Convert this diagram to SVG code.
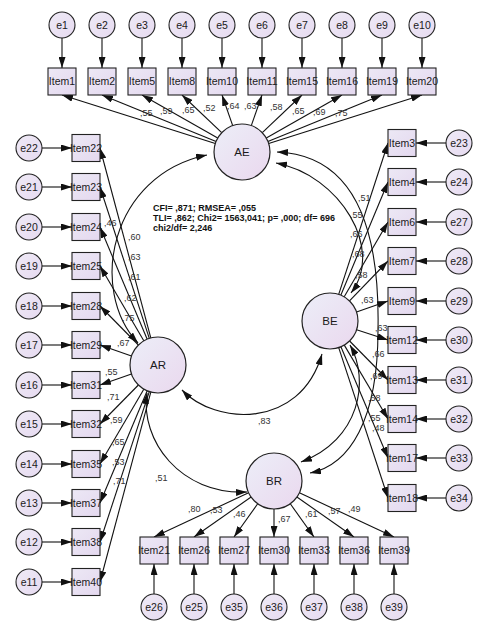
<svg xmlns="http://www.w3.org/2000/svg" width="487" height="630" viewBox="0 0 487 630">
<defs>
<linearGradient id="gl" x1="0" y1="0" x2="1" y2="1"><stop offset="0" stop-color="#eceef8"/><stop offset="1" stop-color="#ead8ee"/></linearGradient>
<linearGradient id="ge" x1="0" y1="0" x2="1" y2="1"><stop offset="0" stop-color="#efeaf6"/><stop offset="1" stop-color="#e6daf0"/></linearGradient>
<linearGradient id="gb" x1="0" y1="0" x2="1" y2="1"><stop offset="0" stop-color="#ece8f5"/><stop offset="1" stop-color="#e4d8ef"/></linearGradient>
<marker id="ah" viewBox="0 0 11 7" refX="11" refY="3.5" markerWidth="11" markerHeight="7" markerUnits="userSpaceOnUse" orient="auto-start-reverse"><path d="M0,0 L11,3.5 L0,7 z" fill="#111"/></marker>
<style>
.lat circle{fill:url(#gl);stroke:#222;stroke-width:1.2}
.err circle{fill:url(#ge);stroke:#222;stroke-width:1.1}
.itm rect{fill:url(#gb);stroke:#222;stroke-width:1.1}
text{font-family:"Liberation Sans",Arial,sans-serif;fill:#1a1a1a;text-anchor:middle}
.itm text,.err text{font-size:10.5px}
.lat text{font-size:11.5px}
.lbl text{font-size:9px;fill:#333;text-anchor:start}
.fit text{font-size:9px;font-weight:bold;text-anchor:start;fill:#111}
#edges line,#edges path{stroke:#111;stroke-width:1.1;fill:none;marker-end:url(#ah)}
#edges path.cov{marker-start:url(#ah)}
</style>
</defs>
<rect width="487" height="630" fill="#fff"/>
<g id="edges">
<line x1="62" y1="38" x2="62" y2="68"/><line x1="102" y1="38" x2="102" y2="68"/><line x1="142" y1="38" x2="142" y2="68"/><line x1="182" y1="38" x2="182" y2="68"/><line x1="222" y1="38" x2="222" y2="68"/><line x1="262" y1="38" x2="262" y2="68"/><line x1="302" y1="38" x2="302" y2="68"/><line x1="342" y1="38" x2="342" y2="68"/><line x1="382" y1="38" x2="382" y2="68"/><line x1="422" y1="38" x2="422" y2="68"/>
<line x1="42" y1="148" x2="72" y2="148"/><line x1="42" y1="187" x2="72" y2="187"/><line x1="42" y1="227" x2="72" y2="227"/><line x1="42" y1="266" x2="72" y2="266"/><line x1="42" y1="306" x2="72" y2="306"/><line x1="42" y1="345" x2="72" y2="345"/><line x1="42" y1="385" x2="72" y2="385"/><line x1="42" y1="424" x2="72" y2="424"/><line x1="42" y1="464" x2="72" y2="464"/><line x1="42" y1="503" x2="72" y2="503"/><line x1="42" y1="542" x2="72" y2="542"/><line x1="42" y1="582" x2="72" y2="582"/>
<line x1="446" y1="143" x2="416" y2="143"/><line x1="446" y1="182" x2="416" y2="182"/><line x1="446" y1="222" x2="416" y2="222"/><line x1="446" y1="261" x2="416" y2="261"/><line x1="446" y1="301" x2="416" y2="301"/><line x1="446" y1="340" x2="416" y2="340"/><line x1="446" y1="380" x2="416" y2="380"/><line x1="446" y1="419" x2="416" y2="419"/><line x1="446" y1="458" x2="416" y2="458"/><line x1="446" y1="498" x2="416" y2="498"/>
<line x1="154" y1="594" x2="154" y2="564"/><line x1="194" y1="594" x2="194" y2="564"/><line x1="234" y1="594" x2="234" y2="564"/><line x1="274" y1="594" x2="274" y2="564"/><line x1="314" y1="594" x2="314" y2="564"/><line x1="354" y1="594" x2="354" y2="564"/><line x1="394" y1="594" x2="394" y2="564"/>
<line x1="215.3" y1="143.5" x2="62" y2="95"/><line x1="216.1" y1="141.4" x2="102" y2="95"/><line x1="217.7" y1="138.1" x2="142" y2="95"/><line x1="221.7" y1="132.7" x2="182" y2="95"/><line x1="232.7" y1="125.6" x2="222" y2="95"/><line x1="251.3" y1="125.6" x2="262" y2="95"/><line x1="262.3" y1="132.7" x2="302" y2="95"/><line x1="266.3" y1="138.1" x2="342" y2="95"/><line x1="267.9" y1="141.4" x2="382" y2="95"/><line x1="268.7" y1="143.5" x2="422" y2="95"/>
<line x1="150.8" y1="337.9" x2="100" y2="148"/><line x1="149.3" y1="338.4" x2="100" y2="187"/><line x1="147.2" y1="339.2" x2="100" y2="227"/><line x1="143.8" y1="340.8" x2="100" y2="266"/><line x1="138.4" y1="345" x2="100" y2="306"/><line x1="131.5" y1="355.9" x2="100" y2="345"/><line x1="131.5" y1="374.1" x2="100" y2="385"/><line x1="138.4" y1="385" x2="100" y2="424"/><line x1="143.8" y1="389.2" x2="100" y2="464"/><line x1="147.2" y1="390.8" x2="100" y2="503"/><line x1="149.3" y1="391.6" x2="100" y2="542"/><line x1="150.8" y1="392.1" x2="100" y2="582"/>
<line x1="338.7" y1="294.4" x2="388" y2="143"/><line x1="340.8" y1="295.2" x2="388" y2="182"/><line x1="344.2" y1="296.8" x2="388" y2="222"/><line x1="349.5" y1="300.9" x2="388" y2="261"/><line x1="356.5" y1="311.9" x2="388" y2="301"/><line x1="356.6" y1="329.7" x2="388" y2="340"/><line x1="349.6" y1="341" x2="388" y2="380"/><line x1="344.3" y1="345.1" x2="388" y2="419"/><line x1="340.9" y1="346.8" x2="388" y2="458"/><line x1="338.7" y1="347.6" x2="388" y2="498"/>
<line x1="248.6" y1="492.8" x2="154" y2="537"/><line x1="251.1" y1="497" x2="194" y2="537"/><line x1="257.7" y1="503.8" x2="234" y2="537"/><line x1="274" y1="509" x2="274" y2="537"/><line x1="290.3" y1="503.8" x2="314" y2="537"/><line x1="296.9" y1="497" x2="354" y2="537"/><line x1="299.4" y1="492.8" x2="394" y2="537"/>
<path class="cov" d="M207,155 C110,175 88,290 138,343"/>
<path class="cov" d="M276,163 C340,175 385,250 351,293"/>
<path class="cov" d="M277,152 C355,155 380,230 378,330 C378,420 350,465 310,473"/>
<path class="cov" d="M182,390 C215,425 300,430 322,354"/>
<path class="cov" d="M147,393 C140,440 180,495 247,492"/>
<path class="cov" d="M350,345 C370,380 360,440 301,462"/>
</g>
<g id="labels" class="lbl">
<text x="140" y="116">,55</text><text x="160" y="114">,59</text><text x="182" y="113">,65</text><text x="203" y="111">,52</text><text x="227" y="109">,64</text><text x="244" y="109">,63</text><text x="270" y="110">,58</text><text x="292" y="114">,65</text><text x="313" y="115">,69</text><text x="335" y="116">,75</text>
<text x="104" y="226">,46</text><text x="128" y="240">,60</text><text x="128" y="260">,63</text><text x="128" y="280">,61</text><text x="124" y="301">,62</text><text x="122" y="321">,75</text><text x="117" y="346">,67</text><text x="105" y="375">,55</text><text x="107" y="400">,71</text><text x="110" y="423">,59</text><text x="112" y="445">,65</text><text x="112" y="465">,53</text><text x="113" y="484">,71</text><text x="155" y="481">,51</text>
<text x="358" y="201">,51</text><text x="350" y="218">,55</text><text x="350" y="237">,66</text><text x="352" y="257">,68</text><text x="355" y="278">,58</text><text x="361" y="303">,63</text><text x="375" y="331">,63</text><text x="372" y="357">,66</text><text x="370" y="379">,69</text><text x="368" y="401">,58</text><text x="368" y="421">,55</text><text x="372" y="431">,48</text>
<text x="188" y="512">,80</text><text x="210" y="513">,53</text><text x="233" y="517">,46</text><text x="278" y="522">,67</text><text x="305" y="517">,61</text><text x="328" y="514">,57</text><text x="348" y="512">,49</text>
<text x="258" y="424">,83</text>
</g>
<g id="fit" class="fit">
<text x="153" y="211">CFI= ,871; RMSEA= ,055</text>
<text x="153" y="221">TLI= ,862; Chi2= 1563,041; p= ,000; df= 696</text>
<text x="153" y="231">chi2/df= 2,246</text>
</g>
<g id="AE" class="lat"><circle cx="242" cy="152" r="28"/><text x="242" y="156">AE</text></g>
<g id="BE" class="lat"><circle cx="330" cy="321" r="28"/><text x="330" y="325">BE</text></g>
<g id="AR" class="lat"><circle cx="158" cy="365" r="28"/><text x="158" y="369">AR</text></g>
<g id="BR" class="lat"><circle cx="274" cy="481" r="28"/><text x="274" y="485">BR</text></g>
<g id="Item1" class="itm"><rect x="48" y="68" width="28" height="27"/><text x="62" y="85.2">Item1</text></g>
<g id="Item2" class="itm"><rect x="88" y="68" width="28" height="27"/><text x="102" y="85.2">Item2</text></g>
<g id="Item5" class="itm"><rect x="128" y="68" width="28" height="27"/><text x="142" y="85.2">Item5</text></g>
<g id="Item8" class="itm"><rect x="168" y="68" width="28" height="27"/><text x="182" y="85.2">Item8</text></g>
<g id="Item10" class="itm"><rect x="208" y="68" width="28" height="27"/><text x="222" y="85.2">Item10</text></g>
<g id="Item11" class="itm"><rect x="248" y="68" width="28" height="27"/><text x="262" y="85.2">Item11</text></g>
<g id="Item15" class="itm"><rect x="288" y="68" width="28" height="27"/><text x="302" y="85.2">Item15</text></g>
<g id="Item16" class="itm"><rect x="328" y="68" width="28" height="27"/><text x="342" y="85.2">Item16</text></g>
<g id="Item19" class="itm"><rect x="368" y="68" width="28" height="27"/><text x="382" y="85.2">Item19</text></g>
<g id="Item20" class="itm"><rect x="408" y="68" width="28" height="27"/><text x="422" y="85.2">Item20</text></g>
<g id="e1" class="err"><circle cx="62" cy="25" r="13"/><text x="62" y="28.7">e1</text></g>
<g id="e2" class="err"><circle cx="102" cy="25" r="13"/><text x="102" y="28.7">e2</text></g>
<g id="e3" class="err"><circle cx="142" cy="25" r="13"/><text x="142" y="28.7">e3</text></g>
<g id="e4" class="err"><circle cx="182" cy="25" r="13"/><text x="182" y="28.7">e4</text></g>
<g id="e5" class="err"><circle cx="222" cy="25" r="13"/><text x="222" y="28.7">e5</text></g>
<g id="e6" class="err"><circle cx="262" cy="25" r="13"/><text x="262" y="28.7">e6</text></g>
<g id="e7" class="err"><circle cx="302" cy="25" r="13"/><text x="302" y="28.7">e7</text></g>
<g id="e8" class="err"><circle cx="342" cy="25" r="13"/><text x="342" y="28.7">e8</text></g>
<g id="e9" class="err"><circle cx="382" cy="25" r="13"/><text x="382" y="28.7">e9</text></g>
<g id="e10" class="err"><circle cx="422" cy="25" r="13"/><text x="422" y="28.7">e10</text></g>
<g id="Item22" class="itm"><rect x="72" y="134.5" width="28" height="27"/><text x="86" y="151.7">Item22</text></g>
<g id="Item23" class="itm"><rect x="72" y="173.5" width="28" height="27"/><text x="86" y="190.7">Item23</text></g>
<g id="Item24" class="itm"><rect x="72" y="213.5" width="28" height="27"/><text x="86" y="230.7">Item24</text></g>
<g id="Item25" class="itm"><rect x="72" y="252.5" width="28" height="27"/><text x="86" y="269.7">Item25</text></g>
<g id="Item28" class="itm"><rect x="72" y="292.5" width="28" height="27"/><text x="86" y="309.7">Item28</text></g>
<g id="Item29" class="itm"><rect x="72" y="331.5" width="28" height="27"/><text x="86" y="348.7">Item29</text></g>
<g id="Item31" class="itm"><rect x="72" y="371.5" width="28" height="27"/><text x="86" y="388.7">Item31</text></g>
<g id="Item32" class="itm"><rect x="72" y="410.5" width="28" height="27"/><text x="86" y="427.7">Item32</text></g>
<g id="Item35" class="itm"><rect x="72" y="450.5" width="28" height="27"/><text x="86" y="467.7">Item35</text></g>
<g id="Item37" class="itm"><rect x="72" y="489.5" width="28" height="27"/><text x="86" y="506.7">Item37</text></g>
<g id="Item38" class="itm"><rect x="72" y="528.5" width="28" height="27"/><text x="86" y="545.7">Item38</text></g>
<g id="Item40" class="itm"><rect x="72" y="568.5" width="28" height="27"/><text x="86" y="585.7">Item40</text></g>
<g id="e22" class="err"><circle cx="29" cy="148" r="13"/><text x="29" y="151.7">e22</text></g>
<g id="e21" class="err"><circle cx="29" cy="187" r="13"/><text x="29" y="190.7">e21</text></g>
<g id="e20" class="err"><circle cx="29" cy="227" r="13"/><text x="29" y="230.7">e20</text></g>
<g id="e19" class="err"><circle cx="29" cy="266" r="13"/><text x="29" y="269.7">e19</text></g>
<g id="e18" class="err"><circle cx="29" cy="306" r="13"/><text x="29" y="309.7">e18</text></g>
<g id="e17" class="err"><circle cx="29" cy="345" r="13"/><text x="29" y="348.7">e17</text></g>
<g id="e16" class="err"><circle cx="29" cy="385" r="13"/><text x="29" y="388.7">e16</text></g>
<g id="e15" class="err"><circle cx="29" cy="424" r="13"/><text x="29" y="427.7">e15</text></g>
<g id="e14" class="err"><circle cx="29" cy="464" r="13"/><text x="29" y="467.7">e14</text></g>
<g id="e13" class="err"><circle cx="29" cy="503" r="13"/><text x="29" y="506.7">e13</text></g>
<g id="e12" class="err"><circle cx="29" cy="542" r="13"/><text x="29" y="545.7">e12</text></g>
<g id="e11" class="err"><circle cx="29" cy="582" r="13"/><text x="29" y="585.7">e11</text></g>
<g id="Item3" class="itm"><rect x="388" y="129.5" width="28" height="27"/><text x="402" y="146.7">Item3</text></g>
<g id="Item4" class="itm"><rect x="388" y="168.5" width="28" height="27"/><text x="402" y="185.7">Item4</text></g>
<g id="Item6" class="itm"><rect x="388" y="208.5" width="28" height="27"/><text x="402" y="225.7">Item6</text></g>
<g id="Item7" class="itm"><rect x="388" y="247.5" width="28" height="27"/><text x="402" y="264.7">Item7</text></g>
<g id="Item9" class="itm"><rect x="388" y="287.5" width="28" height="27"/><text x="402" y="304.7">Item9</text></g>
<g id="Item12" class="itm"><rect x="388" y="326.5" width="28" height="27"/><text x="402" y="343.7">Item12</text></g>
<g id="Item13" class="itm"><rect x="388" y="366.5" width="28" height="27"/><text x="402" y="383.7">Item13</text></g>
<g id="Item14" class="itm"><rect x="388" y="405.5" width="28" height="27"/><text x="402" y="422.7">Item14</text></g>
<g id="Item17" class="itm"><rect x="388" y="444.5" width="28" height="27"/><text x="402" y="461.7">Item17</text></g>
<g id="Item18" class="itm"><rect x="388" y="484.5" width="28" height="27"/><text x="402" y="501.7">Item18</text></g>
<g id="e23" class="err"><circle cx="459" cy="143" r="13"/><text x="459" y="146.7">e23</text></g>
<g id="e24" class="err"><circle cx="459" cy="182" r="13"/><text x="459" y="185.7">e24</text></g>
<g id="e27" class="err"><circle cx="459" cy="222" r="13"/><text x="459" y="225.7">e27</text></g>
<g id="e28" class="err"><circle cx="459" cy="261" r="13"/><text x="459" y="264.7">e28</text></g>
<g id="e29" class="err"><circle cx="459" cy="301" r="13"/><text x="459" y="304.7">e29</text></g>
<g id="e30" class="err"><circle cx="459" cy="340" r="13"/><text x="459" y="343.7">e30</text></g>
<g id="e31" class="err"><circle cx="459" cy="380" r="13"/><text x="459" y="383.7">e31</text></g>
<g id="e32" class="err"><circle cx="459" cy="419" r="13"/><text x="459" y="422.7">e32</text></g>
<g id="e33" class="err"><circle cx="459" cy="458" r="13"/><text x="459" y="461.7">e33</text></g>
<g id="e34" class="err"><circle cx="459" cy="498" r="13"/><text x="459" y="501.7">e34</text></g>
<g id="Item21" class="itm"><rect x="140" y="537" width="28" height="27"/><text x="154" y="554.2">Item21</text></g>
<g id="Item26" class="itm"><rect x="180" y="537" width="28" height="27"/><text x="194" y="554.2">Item26</text></g>
<g id="Item27" class="itm"><rect x="220" y="537" width="28" height="27"/><text x="234" y="554.2">Item27</text></g>
<g id="Item30" class="itm"><rect x="260" y="537" width="28" height="27"/><text x="274" y="554.2">Item30</text></g>
<g id="Item33" class="itm"><rect x="300" y="537" width="28" height="27"/><text x="314" y="554.2">Item33</text></g>
<g id="Item36" class="itm"><rect x="340" y="537" width="28" height="27"/><text x="354" y="554.2">Item36</text></g>
<g id="Item39" class="itm"><rect x="380" y="537" width="28" height="27"/><text x="394" y="554.2">Item39</text></g>
<g id="e26" class="err"><circle cx="154" cy="607" r="13"/><text x="154" y="610.7">e26</text></g>
<g id="e25" class="err"><circle cx="194" cy="607" r="13"/><text x="194" y="610.7">e25</text></g>
<g id="e35" class="err"><circle cx="234" cy="607" r="13"/><text x="234" y="610.7">e35</text></g>
<g id="e36" class="err"><circle cx="274" cy="607" r="13"/><text x="274" y="610.7">e36</text></g>
<g id="e37" class="err"><circle cx="314" cy="607" r="13"/><text x="314" y="610.7">e37</text></g>
<g id="e38" class="err"><circle cx="354" cy="607" r="13"/><text x="354" y="610.7">e38</text></g>
<g id="e39" class="err"><circle cx="394" cy="607" r="13"/><text x="394" y="610.7">e39</text></g>
</svg>
